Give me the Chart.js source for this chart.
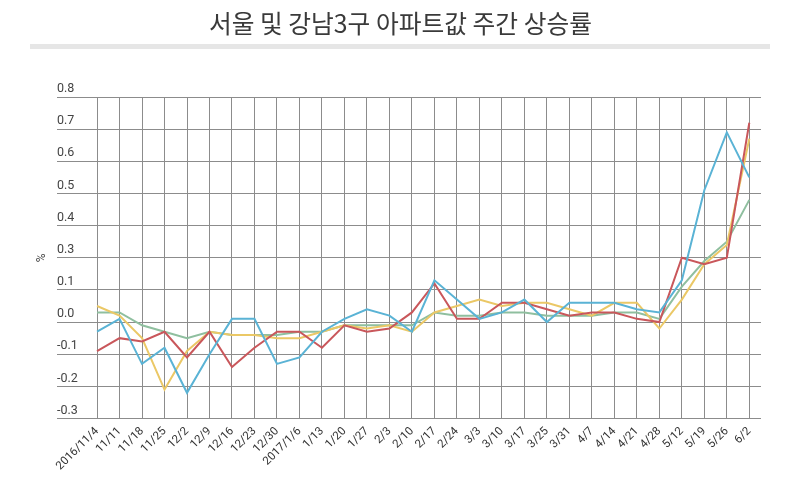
<!DOCTYPE html>
<html>
<head>
<meta charset="utf-8">
<script src="https://cdn.jsdelivr.net/npm/chart.js"></script>
<style>
body { margin: 0; background: #fff; }
#wrap { position: relative; width: 800px; height: 479px; }
#mycanvas { position: absolute; left: 0; top: 0; }
#title { position: absolute; left: 0; top: 5px; width: 800px; text-align: center;
	font-family: "Noto Sans CJK KR"; font-size: 25px; line-height: 34px; color: #3a3a3a; }
#title span { display: inline-block; transform: scaleX(0.99); }
#bar { position: absolute; left: 30px; top: 44px; width: 740px; height: 5px; background: #e6e6e6; }
</style>
</head>
<body>
<div id="wrap">
	<canvas id="mycanvas" width="800" height="479"></canvas>
	<div id="title"><span>서울 및 강남3구 아파트값 주간 상승률</span></div>
	<div id="bar"></div>
</div>
<script>
var weeks = ["2016/11/4", "11/11", "11/18", "11/25", "12/2", "12/9", "12/16", "12/23", "12/30",
	"2017/1/6", "1/13", "1/20", "1/27", "2/3", "2/10", "2/17", "2/24", "3/3", "3/10", "3/17",
	"3/25", "3/31", "4/7", "4/14", "4/21", "4/28", "5/12", "5/19", "5/26", "6/2"];

// the original axis skips "0.2", gridlines are evenly spaced
var yTickLabels = ["-0.3", "-0.2", "-0.1", "0.0", "0.1", "0.3", "0.4", "0.5", "0.6", "0.7", "0.8"];

var blueLine = [-0.03, 0.01, -0.13, -0.08, -0.22, -0.10, 0.01, 0.01, -0.13, -0.11,
	-0.03, 0.01, 0.04, 0.02, -0.03, 0.13, 0.07, 0.01, 0.03, 0.07,
	0.00, 0.06, 0.06, 0.06, 0.04, 0.03, 0.13, 0.41, 0.59, 0.45];
var redLine = [-0.09, -0.05, -0.06, -0.03, -0.11, -0.03, -0.14, -0.08, -0.03, -0.03,
	-0.08, -0.01, -0.03, -0.02, 0.03, 0.12, 0.01, 0.01, 0.06, 0.06,
	0.04, 0.02, 0.03, 0.03, 0.01, 0.00, 0.20, 0.18, 0.20, 0.62];
var yellowLine = [0.05, 0.02, -0.05, -0.21, -0.09, -0.03, -0.04, -0.04, -0.05, -0.05,
	-0.03, -0.01, -0.02, -0.01, -0.03, 0.03, 0.05, 0.07, 0.05, 0.06,
	0.06, 0.04, 0.02, 0.06, 0.06, -0.02, 0.07, 0.18, 0.24, 0.57];
var greenLine = [0.03, 0.03, -0.01, -0.03, -0.05, -0.03, -0.04, -0.04, -0.04, -0.03,
	-0.03, -0.01, -0.01, -0.01, -0.01, 0.03, 0.02, 0.02, 0.03, 0.03,
	0.02, 0.02, 0.02, 0.03, 0.03, 0.01, 0.11, 0.19, 0.25, 0.38];

function points(values) {
	return values.map(function(v, i) { return { x: i, y: v }; });
}

function makeSet(values, color) {
	return {
		data: points(values),
		borderColor: color,
		backgroundColor: color,
		borderWidth: 2,
		pointRadius: 0,
		fill: false,
		lineTension: 0
	};
}

var gridColor = "#8c8c8c";

var chartdata = {
	datasets: [
		makeSet(blueLine, "#5ab3d5"),
		makeSet(redLine, "#c9575b"),
		makeSet(yellowLine, "#ebc866"),
		makeSet(greenLine, "#8fbf9f")
	]
};

var ctx = document.getElementById("mycanvas");

var LineGraph = new Chart(ctx, {
	type: "line",
	data: chartdata,
	options: {
		responsive: false,
		animation: false,
		layout: { padding: { left: 34.6, right: 39, top: 97, bottom: 0 } },
		plugins: {
			legend: { display: false },
			tooltip: { enabled: false }
		},
		scales: {
			x: {
				type: "linear",
				min: -1.78,
				max: 29.52,
				afterBuildTicks: function(scale) {
					scale.ticks = weeks.map(function(w, i) { return { value: i }; });
				},
				grid: { color: gridColor, drawTicks: false },
				border: { display: false },
				ticks: {
					autoSkip: false,
					minRotation: 45,
					maxRotation: 45,
					padding: 6,
					color: "#333",
					font: { family: "Roboto", size: 11.5 },
					callback: function(v) { return weeks[v]; }
				}
			},
			y: {
				min: -0.3,
				max: 0.7,
				grid: { color: gridColor, drawTicks: false },
				border: { display: false },
				title: {
					display: true,
					text: "%",
					color: "#444",
					font: { family: "Roboto", size: 12 },
					padding: { top: 0, bottom: 8 }
				},
				ticks: {
					stepSize: 0.1,
					mirror: true,
					padding: 0,
					labelOffset: -8,
					color: "#444",
					font: { family: "Roboto", size: 12.5 },
					callback: function(v, i) { return yTickLabels[i]; }
				}
			}
		}
	}
});
</script>
</body>
</html>
